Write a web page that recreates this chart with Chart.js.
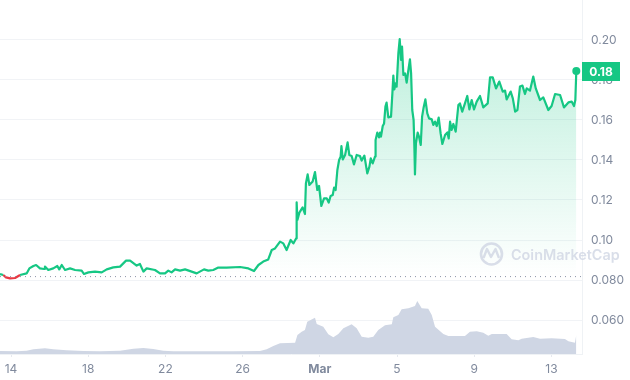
<!DOCTYPE html>
<html>
<head>
<meta charset="utf-8">
<style>html,body{margin:0;padding:0;background:#fff}#w{width:630px;height:380px}</style>
<script src="https://cdn.jsdelivr.net/npm/chart.js@4"></script>
</head>
<body>
<div id="w"><canvas id="c" width="630" height="380"></canvas></div>
<script>
const xTickDays = [0,4,8,12,16,20,24,28];
const xTickLabels = ['14','18','22','26','Mar','5','9','13'];
const yTickValues = [0.20,0.18,0.16,0.14,0.12,0.10,0.08,0.06];
const yTickLabels = ['0.20','0.18','0.16','0.14','0.12','0.10','0.080','0.060'];
const openPrice = 0.0817;
const lastPriceLabel = '0.18';
const priceDays = [-0.57,-0.40,-0.26,-0.05,0.21,0.47,0.81,0.95,1.16,1.30,1.50,1.71,1.76,1.93,2.19,2.40,2.50,2.63,2.80,3.06,3.32,3.66,3.78,4.01,4.35,4.70,4.96,5.30,5.65,5.96,6.17,6.51,6.68,6.86,7.03,7.46,7.72,7.98,8.15,8.32,8.50,8.76,9.02,9.36,9.62,10.0,10.22,10.48,10.74,11.17,11.87,12.30,12.59,12.82,13.07,13.33,13.51,13.68,13.94,14.11,14.28,14.49,14.63,14.77,
14.80,14.84,14.94,15.11,15.23,15.28,15.37,15.46,15.63,15.75,15.87,15.96,16.08,16.22,16.36,16.46,16.56,16.67,16.74,16.82,16.91,17.00,17.08,17.12,17.19,17.31,17.44,17.53,17.65,17.77,17.91,18.08,18.17,18.31,18.46,18.57,18.64,18.74,18.86,18.89,18.98,19.07,19.12,19.17,19.26,19.33,19.40,19.46,19.55,19.69,19.76,19.81,19.86,19.93,19.98,20.07,20.14,20.21,20.26,20.33,20.42,20.50,20.59,20.67,20.73,20.79,20.86,20.90,20.93,20.98,21.07,21.14,21.23,21.30,21.38,21.47,21.57,21.66,21.80,21.88,21.97,22.06,22.16,22.26,22.35,
22.49,22.61,22.68,22.75,22.83,22.92,23.04,23.18,23.26,23.38,23.52,23.64,23.75,23.87,23.99,24.13,24.30,24.47,24.70,24.82,24.96,25.13,25.30,25.48,25.60,25.68,25.89,26.00,26.12,26.24,26.37,26.50,26.63,26.72,26.89,27.06,27.19,27.41,27.58,27.84,28.01,28.19,28.45,28.65,28.88,29.05,29.17,29.24,29.29];
const prices = [.0830,.0825,.0813,.0808,.0810,.0825,.0833,.0858,.0870,.0875,.0858,.0855,.0867,.0850,.0858,.0870,.0853,.0875,.0850,.0858,.0850,.0847,.0830,.0838,.0842,.0838,.0853,.0863,.0867,.0897,.0897,.0872,.0880,.0842,.0858,.0850,.0833,.0833,.0847,.0838,.0853,.0847,.0853,.0842,.0833,.0853,.0847,.0850,.0862,.0862,.0865,.0858,.0845,.0875,.0892,.0903,.0950,.0958,.0992,.0983,.0950,.1000,.0983,.1008,
.1188,.1100,.1137,.1163,.1130,.1283,.1328,.1275,.1292,.1340,.1250,.1270,.1170,.1208,.1208,.1187,.1220,.1225,.1262,.1250,.1350,.1400,.1417,.1470,.1403,.1425,.1488,.1425,.1420,.1378,.1425,.1420,.1397,.1422,.1333,.1367,.1408,.1383,.1417,.1500,.1537,.1513,.1537,.1517,.1570,.1583,.1667,.1687,.1613,.1617,.1733,.1822,.1753,.1783,.1767,.1933,.2005,.1900,.1967,.1825,.1833,.1787,.1850,.1903,.1833,.1650,.1600,.1467,.1328,.1483,.1537,.1517,.1475,.1617,.1663,.1703,.1633,.1608,.1603,.1575,.1592,.1570,.1612,.1533,.1480,
.1525,.1538,.1508,.1592,.1550,.1580,.1542,.1675,.1683,.1642,.1683,.1720,.1653,.1700,.1653,.1692,.1720,.1663,.1683,.1813,.1813,.1758,.1792,.1742,.1747,.1703,.1742,.1708,.1642,.1650,.1767,.1772,.1730,.1758,.1747,.1817,.1758,.1700,.1713,.1650,.1670,.1730,.1725,.1663,.1688,.1692,.1670,.1700,.1845];
const volumeDays = [-0.57,0.29,0.81,1.16,1.76,2.19,2.88,3.75,4.61,5.65,6.34,6.86,7.37,7.89,8.41,9.79,11.52,12.90,13.25,13.59,13.94,14.72,14.84,15.06,15.23,15.35,15.75,15.84,16.18,16.44,16.70,16.96,17.22,17.65,17.91,18.17,18.51,18.77,19.03,19.38,19.73,19.81,20.07,20.24,20.59,20.93,21.05,21.28,21.62,21.80,21.97,22.40,22.66,23.52,23.78,24.13,24.47,24.73,24.91,25.68,25.94,26.29,26.46,27.06,27.41,28.01,28.70,28.88,29.22,29.29];
const volumes = [3,2.7,3.3,4.7,5.7,4.7,3.7,3,2.7,3.3,5.3,6,5,3.3,2.7,2.7,2.7,3,4.7,8,10.7,11.3,19,22.3,24,32.3,36.3,30,27.3,19.7,16.7,20,25.7,29.7,25.7,17.3,16.3,17.3,24,28.7,29.7,36.7,39,44.7,45.7,48,53,45.7,45.3,39,27.3,20,18,18,22.3,22.7,21.3,18.3,20,20,14.7,13.7,15.3,17,15.3,15.7,15,12.7,11.3,19.3];

const GREEN='#16c784', RED='#ea3943', GREY='#808a9d', FONT='Inter';
const zip=(a,b)=>a.map((x,i)=>({x,y:b[i]}));
const noPad=s=>{s.paddingTop=s.paddingBottom=s.paddingLeft=s.paddingRight=0;};

const overlay={id:'overlay',afterDraw(chart){
  const {ctx,chartArea:a,scales:{y}}=chart;
  const py=y.getPixelForValue(prices[prices.length-1]);
  ctx.save();
  ctx.fillStyle=GREEN;
  ctx.fillRect(a.right,Math.round(py)-9,38,19);
  ctx.fillStyle='#fff';
  ctx.font='700 12px '+FONT;
  ctx.textAlign='center';ctx.textBaseline='middle';
  ctx.fillText(lastPriceLabel,a.right+19,py+1);
  const c='rgba(207,214,228,.8)';
  ctx.strokeStyle=c;ctx.lineWidth=2.6;
  ctx.beginPath();ctx.arc(491.5,254,10.5,0,Math.PI*2);ctx.stroke();
  ctx.lineWidth=2.4;ctx.lineJoin='round';
  ctx.beginPath();ctx.moveTo(483.5,258);ctx.lineTo(487,249);ctx.lineTo(491,257);ctx.lineTo(495.5,249);ctx.lineTo(499,258);ctx.stroke();
  ctx.fillStyle=c;ctx.font='600 14.4px '+FONT;ctx.textAlign='left';
  ctx.fillText('CoinMarketCap',511,255.5);
  ctx.restore();
}};

new Chart(document.getElementById('c'),{
  type:'line',
  plugins:[overlay],
  data:{datasets:[
    {label:'Price',data:zip(priceDays,prices),yAxisID:'y',borderColor:GREEN,borderWidth:2.2,tension:0,order:1,
     borderJoinStyle:'round',
     pointRadius:c=>c.dataIndex===prices.length-1?4:0,pointHoverRadius:0,
     pointBackgroundColor:GREEN,pointBorderColor:GREEN,pointBorderWidth:0,
     segment:{borderColor:c=>(c.p0.parsed.y<openPrice||c.p1.parsed.y<openPrice)?RED:GREEN},
     fill:{value:openPrice},
     backgroundColor:c=>{
       const ch=c.chart,s=ch.scales&&ch.scales.y;
       if(!s||!ch.chartArea)return 'rgba(22,199,132,.1)';
       const g=ch.ctx.createLinearGradient(0,s.getPixelForValue(yTickValues[0]),0,s.getPixelForValue(openPrice));
       g.addColorStop(0,'rgba(22,199,132,.28)');
       g.addColorStop(1,'rgba(22,199,132,0)');
       return g;
     }},
    {label:'Open',data:[{x:-0.57,y:openPrice},{x:29.585,y:openPrice}],yAxisID:'y',borderColor:'#8a93a6',borderWidth:1,borderDash:[1,4],pointRadius:0,fill:false,order:0},
    {label:'Volume',data:zip(volumeDays,volumes),yAxisID:'v',borderWidth:0,backgroundColor:'#cfd6e4',pointRadius:0,fill:'origin',tension:0,order:2}
  ]},
  options:{
    responsive:false,animation:false,
    layout:{padding:0,autoPadding:false},
    plugins:{legend:{display:false},tooltip:{enabled:false}},
    scales:{
      x:{type:'linear',min:-0.57,max:29.585,
        afterBuildTicks(s){s.ticks=xTickDays.map(value=>({value}));},
        afterFit(s){s.height=26;noPad(s);},
        border:{color:'#eff2f5'},
        grid:{drawOnChartArea:false,drawTicks:true,tickLength:3,color:'#e6e9ef'},
        ticks:{autoSkip:false,maxRotation:0,padding:5,color:GREY,
          callback:v=>xTickLabels[xTickDays.indexOf(v)],
          font:c=>({family:FONT,size:12,weight:c.tick&&c.tick.label==='Mar'?'700':'400'})}},
      y:{position:'right',min:0.043,max:0.22,
        afterBuildTicks(s){s.ticks=yTickValues.map(value=>({value}));},
        afterFit(s){s.width=48;noPad(s);},
        border:{color:'#eff2f5'},
        grid:{color:'#f1f3f6',drawTicks:false},
        ticks:{autoSkip:false,padding:9,color:GREY,align:'center',crossAlign:'near',
          callback:v=>yTickLabels[yTickValues.indexOf(v)],
          font:{family:FONT,size:12}}},
      v:{display:false,min:0,max:354}
    }
  }
});
</script>
</body>
</html>
